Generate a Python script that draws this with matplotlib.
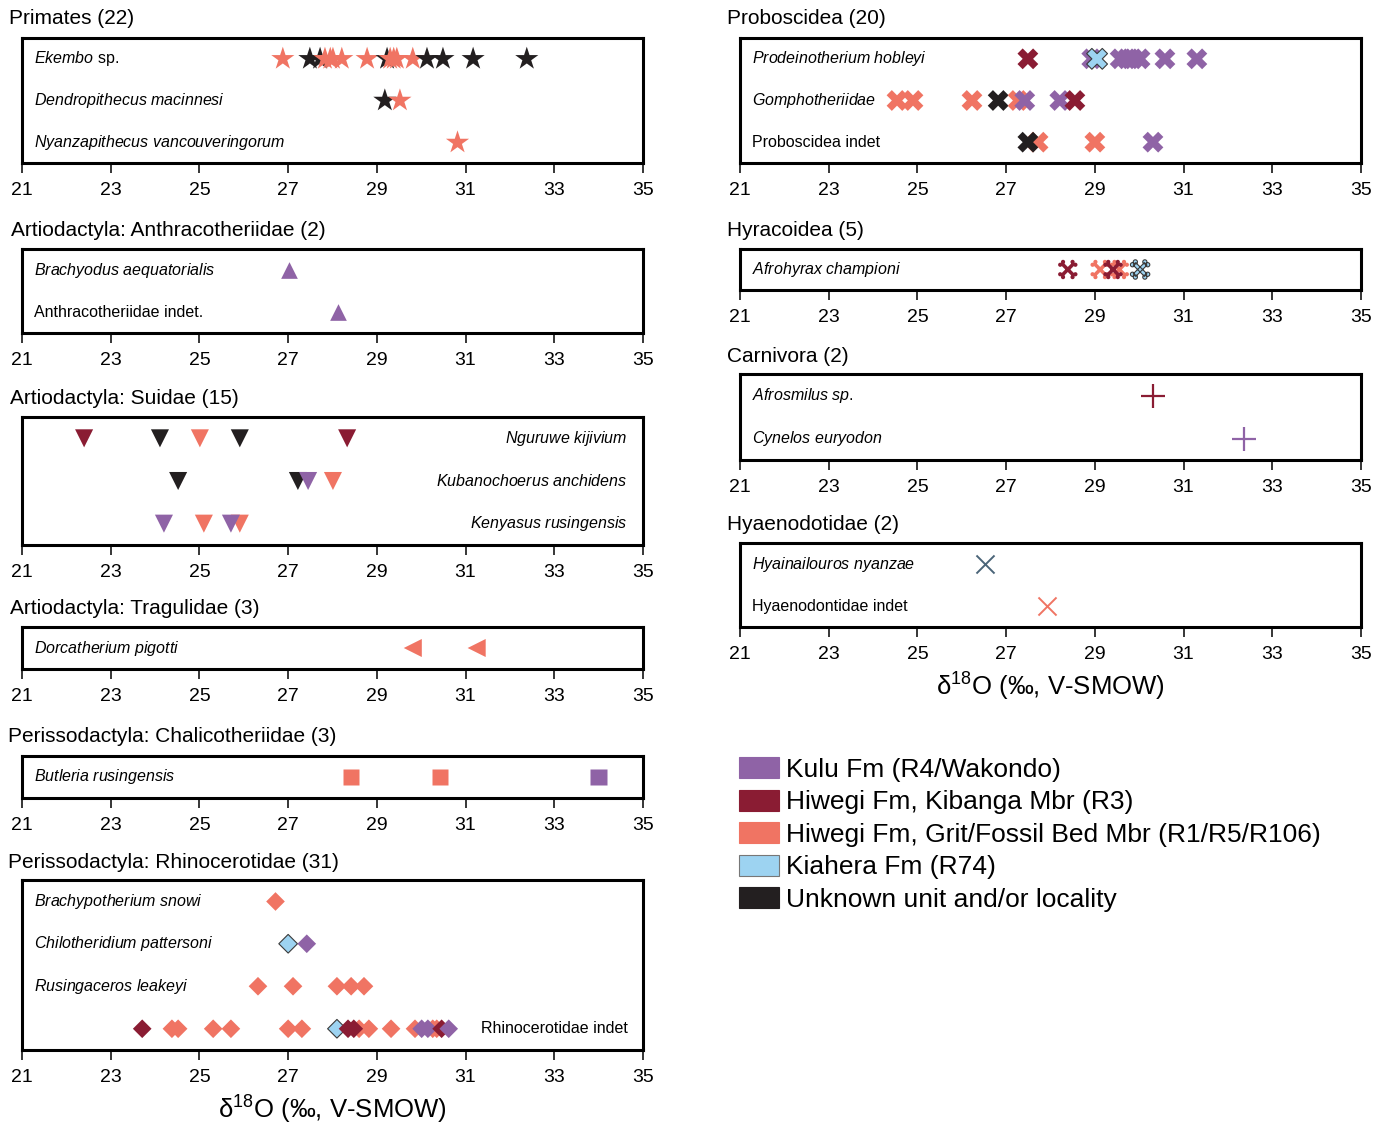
import matplotlib
matplotlib.use("Agg")
import matplotlib.pyplot as plt
from matplotlib.path import Path
from matplotlib.patches import Patch
import numpy as np

plt.rcParams['font.family'] = ['Liberation Sans', 'DejaVu Sans']
plt.rcParams['mathtext.fontset'] = 'custom'
plt.rcParams['mathtext.rm'] = 'Liberation Sans'
plt.rcParams['mathtext.it'] = 'Liberation Sans:italic'

# couleurs des unités stratigraphiques
unit_colors = {
    'K': '#8F63A6',   # Kulu Fm
    'H': '#8A1C33',   # Hiwegi Fm, Kibanga Mbr
    'G': '#F07463',   # Hiwegi Fm, Grit/Fossil Bed Mbr
    'A': '#9DD3F1',   # Kiahera Fm
    'U': '#231F20',   # inconnu
}
unit_labels = ['Kulu Fm (R4/Wakondo)', 'Hiwegi Fm, Kibanga Mbr (R3)',
               'Hiwegi Fm, Grit/Fossil Bed Mbr (R1/R5/R106)',
               'Kiahera Fm (R74)', 'Unknown unit and/or locality']
unit_keys = ['K', 'H', 'G', 'A', 'U']

# --- Primates
ekembo_vals = [26.88, 27.49, 27.72, 27.83, 27.95, 28.01, 28.21, 28.78, 29.23,
               29.30, 29.38, 29.45, 29.81, 30.13, 30.49, 31.17, 32.38]
ekembo_unit = ['G', 'U', 'U', 'G', 'G', 'G', 'G', 'G', 'U',
               'G', 'G', 'G', 'G', 'U', 'U', 'U', 'U']
dendro_vals = [29.18, 29.52]
dendro_unit = ['U', 'G']
nyanza_vals = [30.81]
nyanza_unit = ['G']

# --- Anthracotheriidae
brachyodus_vals = [27.02]
brachyodus_unit = ['K']
anthraco_indet_vals = [28.12]
anthraco_indet_unit = ['K']

# --- Suidae
nguruwe_vals = [22.40, 24.11, 25.01, 25.91, 28.33]
nguruwe_unit = ['H', 'U', 'G', 'U', 'H']
kubano_vals = [24.52, 27.22, 27.45, 28.01]
kubano_unit = ['U', 'U', 'K', 'G']
kenyasus_vals = [24.20, 25.10, 25.91, 25.71]
kenyasus_unit = ['K', 'G', 'G', 'K']

# --- Tragulidae
dorcath_vals = [29.81, 31.25]
dorcath_unit = ['G', 'G']

# --- Chalicotheriidae
butleria_vals = [28.42, 30.42, 34.00]
butleria_unit = ['G', 'G', 'K']

# --- Rhinocerotidae
brachypo_vals = [26.70]
brachypo_unit = ['G']
chilo_vals = [27.00, 27.42]
chilo_unit = ['A', 'K']
rusinga_vals = [26.32, 27.11, 28.10, 28.42, 28.71]
rusinga_unit = ['G', 'G', 'G', 'G', 'G']
rhino_indet_vals = [23.71, 24.38, 24.52, 25.31, 25.71, 27.00, 27.31, 28.10,
                    28.60, 28.82, 29.32, 29.86, 30.26, 30.35, 28.35, 28.48,
                    30.01, 30.15, 30.46, 30.62]
rhino_indet_unit = ['H', 'G', 'G', 'G', 'G', 'G', 'G', 'A',
                    'G', 'G', 'G', 'G', 'G', 'G', 'H', 'H',
                    'K', 'K', 'H', 'K']

# --- Proboscidea
prodeino_vals = [27.49, 28.93, 29.57, 29.72, 29.86, 30.02, 30.58, 31.30, 29.05]
prodeino_unit = ['H', 'K', 'K', 'K', 'K', 'K', 'K', 'K', 'A']
gompho_vals = [24.54, 24.90, 26.23, 26.82, 27.27, 27.42, 28.21, 28.55]
gompho_unit = ['G', 'G', 'G', 'U', 'G', 'K', 'K', 'H']
probo_indet_vals = [27.72, 27.49, 29.00, 30.31]
probo_indet_unit = ['G', 'U', 'G', 'K']

# --- Hyracoidea
afrohyrax_vals = [28.39, 29.12, 29.55, 29.41, 30.02]
afrohyrax_unit = ['H', 'G', 'G', 'H', 'A']

# --- Carnivora
afrosmilus_vals = [30.31]
afrosmilus_unit = ['H']
cynelos_vals = [32.36]
cynelos_unit = ['K']

# --- Hyaenodontidae
hyainail_vals = [26.52]
hyainail_unit = ['A']
hyaeno_indet_vals = [27.92]
hyaeno_indet_unit = ['G']


def ccw(pts):
    # oriente un polygone dans le sens trigonométrique
    pts = np.asarray(pts, float)
    x, y = pts[:, 0], pts[:, 1]
    area = 0.5 * np.sum(x * np.roll(y, -1) - np.roll(x, -1) * y)
    return pts if area > 0 else pts[::-1]


def crossbones():
    # X épais avec lobes aux extrémités (marqueur des Hyracoidea)
    polys = []
    w = 0.17
    for sgn in (1, -1):
        d = np.array([1, sgn]) / np.sqrt(2)
        n = np.array([-d[1], d[0]])
        polys.append(ccw([-0.75 * d - w * n, 0.75 * d - w * n,
                          0.75 * d + w * n, -0.75 * d + w * n]))
    t = np.linspace(0, 2 * np.pi, 16, endpoint=False)
    for sx in (1, -1):
        for sy in (1, -1):
            for cx, cy in [(sx * 0.72, sy * 0.45), (sx * 0.45, sy * 0.72)]:
                polys.append(ccw(np.c_[cx + 0.2 * np.cos(t), cy + 0.2 * np.sin(t)]))
    verts, codes = [], []
    for p in polys:
        verts += list(p) + [p[0]]
        codes += [Path.MOVETO] + [Path.LINETO] * (len(p) - 1) + [Path.CLOSEPOLY]
    return Path(np.array(verts), codes)


W, H = 1388, 1123
fig = plt.figure(figsize=(W / 100, H / 100), dpi=100)


def px_axes(x0, y0, x1, y1):
    return fig.add_axes([x0 / W, 1 - y1 / H, (x1 - x0) / W, (y1 - y0) / H])


def draw_panel(ax, rows, marker, ms, title, tx, ty, filled=True, lw=1.2):
    n = len(rows)
    for i, (label, vals, units, ha) in enumerate(rows):
        y = n - 1 - i + 0.5
        cols = [unit_colors[u] for u in units]
        if filled:
            edges = ['#3a3a3a' if u == 'A' else 'none' for u in units]
            ax.scatter(vals, [y] * len(vals), marker=marker, s=ms ** 2, c=cols,
                       edgecolors=edges, linewidths=0.8, zorder=3)
        else:
            ax.scatter(vals, [y] * len(vals), marker=marker, s=ms ** 2,
                       c=['#4a6478' if u == 'A' else unit_colors[u] for u in units],
                       linewidths=lw, zorder=3)
        if ha == 'left':
            ax.text(0.019, y, label, transform=ax.get_yaxis_transform(),
                    ha='left', va='center', fontsize=11.5)
        else:
            ax.text(0.975, y, label, transform=ax.get_yaxis_transform(),
                    ha='right', va='center', fontsize=11.5)
    ax.set_xlim(21, 35)
    ax.set_ylim(0, n)
    ax.set_yticks([])
    ax.set_xticks(np.arange(21, 36, 2))
    ax.tick_params(axis='x', length=7.5, width=1.1, labelsize=14, pad=6.5)
    for s in ax.spines.values():
        s.set_linewidth(2.2)
    fig.text(tx / W, 1 - ty / H, title, fontsize=15, ha='left', va='center')


it = lambda s: r'$\it{' + s.replace(' ', r'\ ') + '}$'
xlab = r'δ$^{18}$O (‰, V-SMOW)'

ax = px_axes(22, 38, 643, 163)
draw_panel(ax, [(it('Ekembo') + ' sp.', ekembo_vals, ekembo_unit, 'left'),
                (it('Dendropithecus macinnesi'), dendro_vals, dendro_unit, 'left'),
                (it('Nyanzapithecus vancouveringorum'), nyanza_vals, nyanza_unit, 'left')],
           '*', 17.5, 'Primates (22)', 9, 19)

ax = px_axes(22, 249, 643, 333)
draw_panel(ax, [(it('Brachyodus aequatorialis'), brachyodus_vals, brachyodus_unit, 'left'),
                ('Anthracotheriidae indet.', anthraco_indet_vals, anthraco_indet_unit, 'left')],
           '^', 12, 'Artiodactyla: Anthracotheriidae (2)', 11, 230)

ax = px_axes(22, 417, 643, 545)
draw_panel(ax, [(it('Nguruwe kijivium'), nguruwe_vals, nguruwe_unit, 'right'),
                (it('Kubanochoerus anchidens'), kubano_vals, kubano_unit, 'right'),
                (it('Kenyasus rusingensis'), kenyasus_vals, kenyasus_unit, 'right')],
           'v', 13, 'Artiodactyla: Suidae (15)', 10, 399)

ax = px_axes(22, 627, 643, 669)
draw_panel(ax, [(it('Dorcatherium pigotti'), dorcath_vals, dorcath_unit, 'left')],
           '<', 13, 'Artiodactyla: Tragulidae (3)', 10, 609)

ax = px_axes(22, 756, 643, 798)
draw_panel(ax, [(it('Butleria rusingensis'), butleria_vals, butleria_unit, 'left')],
           's', 12, 'Perissodactyla: Chalicotheriidae (3)', 8, 737)

ax = px_axes(22, 880, 643, 1050)
draw_panel(ax, [(it('Brachypotherium snowi'), brachypo_vals, brachypo_unit, 'left'),
                (it('Chilotheridium pattersoni'), chilo_vals, chilo_unit, 'left'),
                (it('Rusingaceros leakeyi'), rusinga_vals, rusinga_unit, 'left'),
                ('Rhinocerotidae indet', rhino_indet_vals, rhino_indet_unit, 'right')],
           'D', 9.5, 'Perissodactyla: Rhinocerotidae (31)', 8, 862)
ax.set_xlabel(xlab, fontsize=18.5, labelpad=5)

ax = px_axes(740, 38, 1361, 163)
draw_panel(ax, [(it('Prodeinotherium hobleyi'), prodeino_vals, prodeino_unit, 'left'),
                (it('Gomphotheriidae'), gompho_vals, gompho_unit, 'left'),
                ('Proboscidea indet', probo_indet_vals, probo_indet_unit, 'left')],
           'X', 15, 'Proboscidea (20)', 727, 19)

ax = px_axes(740, 249, 1361, 290)
draw_panel(ax, [(it('Afrohyrax championi'), afrohyrax_vals, afrohyrax_unit, 'left')],
           crossbones(), 14, 'Hyracoidea (5)', 727, 230)

ax = px_axes(740, 374, 1361, 460)
draw_panel(ax, [(it('Afrosmilus') + ' ' + it('sp.'), afrosmilus_vals, afrosmilus_unit, 'left'),
                (it('Cynelos euryodon'), cynelos_vals, cynelos_unit, 'left')],
           '+', 17, 'Carnivora (2)', 727, 356, filled=False, lw=1.6)

ax = px_axes(740, 543, 1361, 627)
draw_panel(ax, [(it('Hyainailouros nyanzae'), hyainail_vals, hyainail_unit, 'left'),
                ('Hyaenodontidae indet', hyaeno_indet_vals, hyaeno_indet_unit, 'left')],
           'x', 13, 'Hyaenodotidae (2)', 727, 525, filled=False, lw=1.4)
ax.set_xlabel(xlab, fontsize=18.5, labelpad=5)

handles = [Patch(facecolor=unit_colors[k], edgecolor='#777777' if k == 'A' else unit_colors[k],
                 linewidth=0.8) for k in unit_keys]
fig.legend(handles, unit_labels, loc='upper left', bbox_to_anchor=(739 / W, 1 - 757 / H),
           frameon=False, fontsize=19, handlelength=1.5, handleheight=0.85,
           labelspacing=0.3, handletextpad=0.3, borderpad=0, borderaxespad=0)

fig.savefig('out.png', dpi=100)
